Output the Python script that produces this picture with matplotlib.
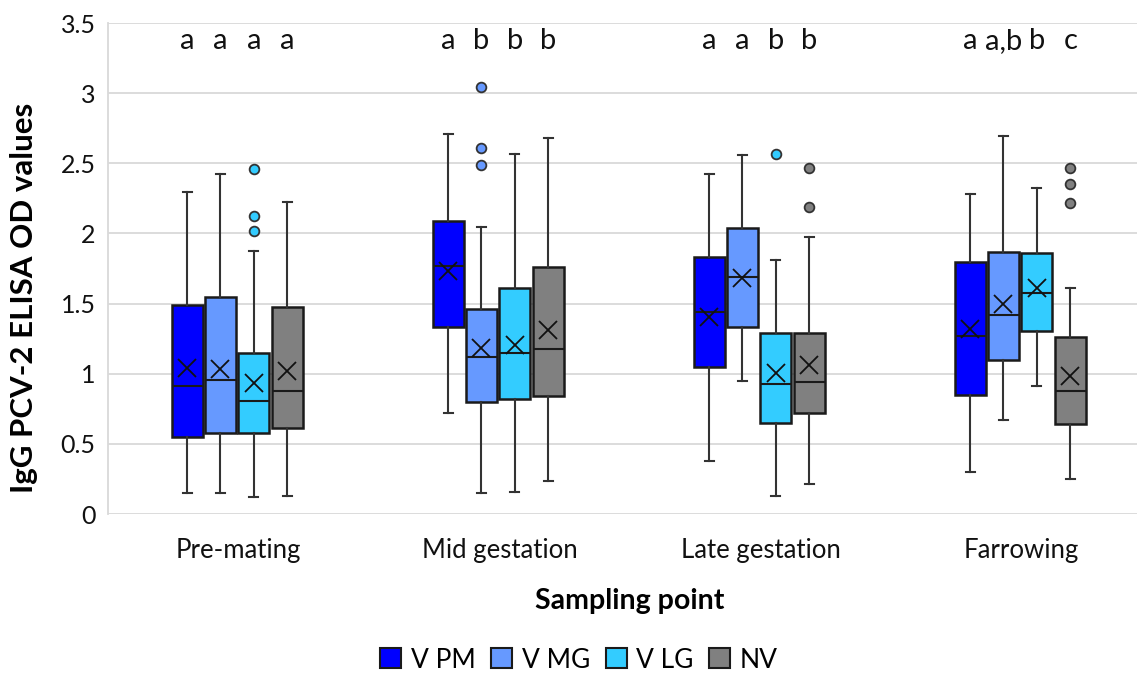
import matplotlib
matplotlib.use('Agg')
import matplotlib.pyplot as plt
from matplotlib.patches import Patch

plt.rcParams['font.family'] = ['Lato', 'DejaVu Sans']

groups = ['Pre-mating', 'Mid gestation', 'Late gestation', 'Farrowing']
series = ['V PM', 'V MG', 'V LG', 'NV']
colors = ['#0000FF', '#6699FF', '#33CCFF', '#808080']

# rows = series, columns = sampling point
whislo = [[0.152, 0.718, 0.378, 0.302],
          [0.147, 0.152, 0.948, 0.670],
          [0.124, 0.157, 0.131, 0.912],
          [0.131, 0.233, 0.214, 0.247]]
q1 = [[0.551, 1.335, 1.050, 0.848],
      [0.580, 0.801, 1.335, 1.098],
      [0.575, 0.820, 0.646, 1.307],
      [0.615, 0.841, 0.718, 0.641]]
med = [[0.912, 1.768, 1.438, 1.269],
       [0.955, 1.117, 1.692, 1.416],
       [0.805, 1.145, 0.924, 1.573],
       [0.877, 1.176, 0.943, 0.877]]
q3 = [[1.490, 2.086, 1.832, 1.794],
      [1.544, 1.463, 2.036, 1.865],
      [1.145, 1.608, 1.288, 1.858],
      [1.473, 1.763, 1.288, 1.259]]
whishi = [[2.293, 2.706, 2.421, 2.283],
          [2.421, 2.048, 2.557, 2.696],
          [1.875, 2.564, 1.810, 2.324],
          [2.224, 2.678, 1.972, 1.609]]
means = [[1.038, 1.734, 1.406, 1.316],
         [1.031, 1.181, 1.680, 1.497],
         [0.931, 1.205, 1.003, 1.609],
         [1.019, 1.311, 1.062, 0.984]]
outliers = [[[], [], [], []],
            [[], [3.043, 2.609, 2.485], [], []],
            [[2.457, 2.126, 2.017], [], [2.564], []],
            [[], [], [2.464, 2.186], [2.469, 2.350, 2.215]]]
letters = [['a', 'a', 'a', 'a'],
           ['a', 'b', 'b', 'b'],
           ['a', 'a', 'b', 'b'],
           ['a', 'a,b', 'b', 'c']]

W, H = 1137, 673
fig = plt.figure(figsize=(W / 100, H / 100), dpi=100)
ax = fig.add_axes([108 / W, (H - 514) / H, (1152 - 108) / W, (514 - 23) / H])

step = 0.128
width = 0.119
for i, name in enumerate(series):
    pos = [g + (i - 1.5) * step - 0.005 for g in range(len(groups))]
    stats = []
    for g in range(len(groups)):
        stats.append({'whislo': whislo[i][g], 'q1': q1[i][g], 'med': med[i][g],
                      'q3': q3[i][g], 'whishi': whishi[i][g], 'mean': means[i][g],
                      'fliers': outliers[i][g]})
    ax.bxp(stats, positions=pos, widths=width, patch_artist=True, showmeans=True,
           capwidths=0.034,
           boxprops=dict(facecolor=colors[i], edgecolor='#1a1a1a', linewidth=1.8),
           medianprops=dict(color='#1a1a1a', linewidth=1.5),
           whiskerprops=dict(color='#333333', linewidth=1.5),
           capprops=dict(color='#333333', linewidth=1.5),
           meanprops=dict(marker='x', markersize=13, markeredgecolor='#111111',
                          markeredgewidth=1.3),
           flierprops=dict(marker='o', markersize=7, markerfacecolor=colors[i],
                           markeredgecolor='#333333', markeredgewidth=1.3),
           zorder=3)

# significance letters above each box
for g in range(len(groups)):
    for i in range(len(series)):
        x = g + (i - 1.5) * step - 0.005
        ax.text(x, 3.315, letters[g][i], ha='center', va='baseline', fontsize=21,
                color='#111111')

ax.set_xlim(-0.5, len(groups) - 0.5)
ax.set_ylim(0, 3.5)
ax.set_yticks([0, 0.5, 1, 1.5, 2, 2.5, 3, 3.5])
ax.set_yticklabels(['0', '0.5', '1', '1.5', '2', '2.5', '3', '3.5'])
ax.set_xticks(range(len(groups)))
ax.set_xticklabels(groups)
ax.tick_params(axis='both', length=0, colors='#111111')
ax.tick_params(axis='y', pad=9, labelsize=18)
ax.tick_params(axis='x', pad=17, labelsize=18.5)
ax.grid(axis='y', color='#d9d9d9', linewidth=1.3, zorder=0)
ax.set_axisbelow(True)
for s in ['top', 'right', 'bottom']:
    ax.spines[s].set_visible(False)
ax.spines['left'].set_color('#d9d9d9')
ax.spines['left'].set_linewidth(1.3)

ax.set_ylabel('IgG PCV-2 ELISA OD values', fontsize=22.5, fontweight='bold')
ax.yaxis.set_label_coords(-70 / (1152 - 108), 0.44)
fig.text(630 / W, 1 - 601 / H, 'Sampling point', ha='center', va='center',
         fontsize=20.5, fontweight='bold')

handles = [Patch(facecolor=c, edgecolor='#1a1a1a', linewidth=1.5) for c in colors]
fig.legend(handles, series, loc='center', bbox_to_anchor=(579 / W, 1 - 660 / H),
           ncol=4, frameon=False, fontsize=19, handlelength=0.8, handleheight=0.8,
           handletextpad=0.35, columnspacing=0.6)

fig.savefig('out.png', dpi=100)
